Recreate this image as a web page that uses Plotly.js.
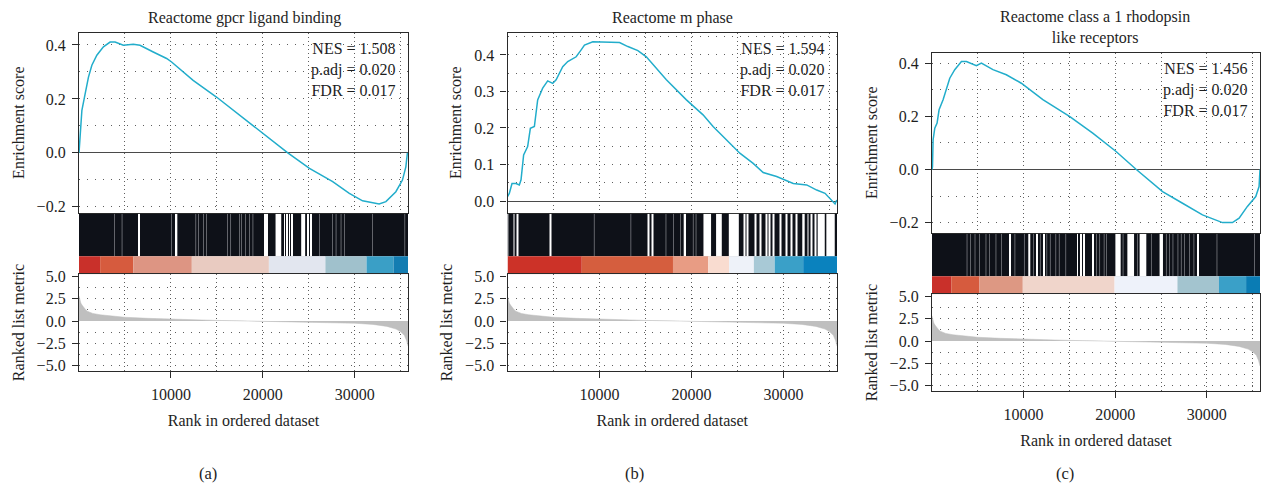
<!DOCTYPE html>
<html><head><meta charset="utf-8">
<script src="https://cdn.plot.ly/plotly-3.0.1.min.js"></script>
<style>html,body{margin:0;padding:0;background:#fff}#chart{width:1261px;height:486px}</style>
</head><body><div id="chart"></div>
<script>
// ---------------- data ----------------
const N_GENES = 35800;
const panelTitles = ['Reactome gpcr ligand binding', 'Reactome m phase', 'Reactome class a 1 rhodopsin<br>like receptors'];
const panelLabels = ['(a)', '(b)', '(c)'];
const nesValues = ['1.508', '1.594', '1.456'];
const padjValues = ['0.020', '0.020', '0.020'];
const fdrValues = ['0.017', '0.017', '0.017'];
const yTitleES = 'Enrichment score';
const yTitleRank = 'Ranked list metric';
const xTitle = 'Rank in ordered dataset';
const rankTickVals = [10000, 20000, 30000];
const metricTickVals = [-5, -2.5, 0, 2.5, 5];

// running enrichment score
const esRankA = [0,130,315,672,1030,1399,1941,2657,3384,3926,4826,5911,6637,8080,9534,10076,12419,14957,17485,20011,22722,25076,27603,29415,30857,32660,33396,34480,35196,35566,35736];
const esScoreA = [0,0.06,0.158,0.22,0.281,0.325,0.362,0.393,0.411,0.411,0.399,0.403,0.399,0.374,0.35,0.337,0.269,0.207,0.14,0.072,0,-0.058,-0.107,-0.15,-0.178,-0.19,-0.181,-0.144,-0.101,-0.052,0];
const esRankB = [0,196,490,926,1285,1470,1753,2189,2483,2919,3278,3822,4367,4911,5282,6000,6545,7460,8004,8364,9268,10727,12175,13079,14168,15083,17261,19439,21246,22335,25242,26691,27780,29239,31047,32507,33596,34500,35044,35589,35774];
const esScoreB = [0.012,0.021,0.048,0.048,0.044,0.058,0.126,0.149,0.199,0.204,0.277,0.309,0.329,0.322,0.332,0.368,0.382,0.395,0.414,0.427,0.436,0.434,0.434,0.423,0.412,0.395,0.332,0.277,0.236,0.204,0.131,0.103,0.078,0.067,0.048,0.044,0.030,0.021,0.007,-0.008,0.003];
const esRankC = [0,54,120,305,555,773,1209,1579,1938,2483,3213,3757,4846,5391,6654,8113,9747,12099,15005,17544,20092,22270,25167,27345,29523,31702,32790,33520,34424,35338,35698,35800];
const esScoreC = [0,0.011,0.112,0.156,0.175,0.225,0.263,0.300,0.344,0.376,0.407,0.407,0.391,0.401,0.376,0.357,0.325,0.263,0.2,0.137,0.068,0.001,-0.083,-0.127,-0.171,-0.2,-0.2,-0.183,-0.139,-0.102,-0.064,0];

// ranked list metric (same ranked list in all panels)
const metricRank = [0,100,200,350,500,700,900,1200,1500,2300,3500,5000,7500,10000,12500,15000,17500,20000,22500,25000,27500,30000,32000,33500,34500,35000,35400,35650,35800];
const metricValue = [2.8,2.4,2.0,1.75,1.5,1.3,1.1,0.95,0.85,0.7,0.55,0.42,0.3,0.2,0.13,0.07,0.02,-0.03,-0.07,-0.12,-0.17,-0.25,-0.38,-0.6,-0.9,-1.2,-1.6,-2.2,-2.8];

// gaps between gene-set hits (clear gaps: start/end ranks; faint gaps: single ranks)
const clearGapStartA = [6450,10550,20150,20400,21388,22320,22610,22860,23110,24176,24850,25215];
const clearGapEndA   = [6550,10700,20250,20500,22006,22410,22700,22950,23200,24610,24940,25305];
const faintGapA = [3850,4685,10076,12711,13004,13546,13872,16150,16507,17484,17668,18135,18568,18926,26160,27603,27972,28514,28872,31942,35455];
const clearGapStartB = [660,1000,4580,15250,15700,19144,21290,22662,24045,25705,26060,26860,27400,28060,28430,28900,29625,30310,30780,31325,32027,32600,32960,33380,33700,34641];
const clearGapEndB   = [760,1140,4680,15350,15840,19395,22117,23283,25134,25805,26160,26960,27500,28160,28530,29000,29725,30410,30880,31425,32289,32700,33060,33560,34470,35555];
const faintGapB = [87,9420,13405,17217,18056,18785,20177,20484];
const clearGapStartC = [8500,10509,11395,12125,15828,16187,16557,17537,20016,21323,22662,24840,28972];
const clearGapEndC   = [8600,10727,11495,12225,15928,16287,16657,17637,20593,22053,23391,25210,29072];
const faintGapC = [3822,4193,4694,5173,5891,6262,6981,7601,9050,10073,11086,11816,12534,12905,13514,13885,14604,17947,18306,18785,19036,20854,22412,23936,25570,25929,26299,26844,27203,27563,28107,28586,31103,35187];

// colour bar of the ranked list
const barBreaksA = [0,2300,5911,12277,20662,26811,31291,34219,35800];
const barBreaksB = [0,8069,17979,21813,24067,26768,29033,32125,35800];
const barBreaksC = [0,2102,5184,9910,19929,26789,31320,34282,35800];
const barColorsA = ['#c9302a','#d65b3e','#dd9583','#e9cbc1','#e2e6ef','#a0c1cc','#3a9fc6','#137db2'];
const barColorsB = ['#cc3228','#d55e3e','#e89c84','#f9dcd0','#eef2f9','#a8c9d6','#3aa0c8','#0a82be'];
const barColorsC = ['#c9302a','#d65b3e','#dd9883','#f0d5cb','#eef2fa','#a3c4cf','#3aa0c8','#0a7cb4'];

// ---------------- layout helpers ----------------
const W = 1261, H = 486;
const FONT = '"Liberation Serif", "Times New Roman", serif';
const TXT = '#1e1e1e';
function xd(a, b) { return [a / W, b / W]; }
function yd(top, bottom) { return [1 - bottom / H, 1 - top / H]; }

const panels = [
  {es: [esRankA, esScoreA], cs: clearGapStartA, ce: clearGapEndA, fg: faintGapA, bb: barBreaksA, bc: barColorsA,
   x: [79, 408], yES: [32.7, 212.7], yHit: [213.8, 274.3], yRk: [274.3, 370.7], esRange: [-0.222, 0.4456], esD: 0.2, esM: 0.1,
   tPos: [244, 18], nPos: [398, 38], lPos: [208, 473]},
  {es: [esRankB, esScoreB], cs: clearGapStartB, ce: clearGapEndB, fg: faintGapB, bb: barBreaksB, bc: barColorsB,
   x: [507.5, 837], yES: [32.7, 212.7], yHit: [213.8, 274.3], yRk: [274.3, 370.7], esRange: [-0.032, 0.461], esD: 0.1, esM: 0.05,
   tPos: [672.5, 18], nPos: [826.7, 38], lPos: [634, 473]},
  {es: [esRankC, esScoreC], cs: clearGapStartC, ce: clearGapEndC, fg: faintGapC, bb: barBreaksC, bc: barColorsC,
   x: [932, 1260], yES: [52.7, 232.7], yHit: [233.8, 294.3], yRk: [294.3, 390.7], esRange: [-0.238, 0.44], esD: 0.2, esM: 0.1,
   tPos: [1095, 27.5], nPos: [1250, 58], lPos: [1065, 473]}
];

const traces = [];
const layout = {
  width: W, height: H, autosize: false,
  margin: {l: 0, r: 0, t: 0, b: 0},
  paper_bgcolor: '#ffffff', plot_bgcolor: 'rgba(0,0,0,0)',
  showlegend: false, hovermode: false, barmode: 'overlay', bargap: 0.2,
  font: {family: FONT, size: 15, color: TXT},
  annotations: []
};

const frame = {showline: true, mirror: true, linecolor: '#2a2a2a', linewidth: 1.3};
const gridMajor = {showgrid: true, gridcolor: '#5e5e5e', gridwidth: 1, griddash: '1px,7px'};
const tickFont = {family: FONT, size: 16, color: TXT};
const titleFont = {family: FONT, size: 16, color: TXT};
const tickStyle = {ticks: 'outside', ticklen: 6, tickcolor: '#2a2a2a', tickwidth: 1.1, ticklabelstandoff: 3, tickfont: tickFont};

panels.forEach((p, i) => {
  const b = i * 3;
  const n = k => (k === 1 ? '' : String(k));
  const iE = n(b + 1), iH = n(b + 2), iR = n(b + 3);

  // --- ES panel axes
  layout['xaxis' + iE] = Object.assign({}, frame, gridMajor, {
    domain: xd(p.x[0], p.x[1]), anchor: 'y' + iE, range: [0, N_GENES],
    tickmode: 'array', tickvals: rankTickVals, showticklabels: false, ticks: '', zeroline: false,
    minor: {dtick: 5000, tick0: 0, showgrid: true, gridcolor: '#5e5e5e', griddash: '1px,3px', ticks: ''}
  });
  layout['yaxis' + iE] = Object.assign({}, frame, gridMajor, tickStyle, {
    domain: yd(p.yES[0], p.yES[1]), anchor: 'x' + iE, range: p.esRange,
    tickmode: 'linear', tick0: 0, dtick: p.esD, tickformat: '.1f',
    zeroline: true, zerolinecolor: '#4a4a4a', zerolinewidth: 1.2,
    minor: {dtick: p.esM, tick0: 0, showgrid: true, gridcolor: '#5e5e5e', griddash: '1px,7px', ticks: ''},
    title: {text: yTitleES, font: titleFont, standoff: 8}
  });
  // --- hits / colour bar axes
  layout['xaxis' + iH] = {domain: xd(p.x[0], p.x[1]), anchor: 'y' + iH, range: [0, N_GENES], visible: false};
  layout['yaxis' + iH] = {domain: yd(p.yHit[0], p.yHit[1]), anchor: 'x' + iH, range: [0, 1], visible: false};
  // --- ranked metric axes
  layout['xaxis' + iR] = Object.assign({}, frame, gridMajor, tickStyle, {
    domain: xd(p.x[0], p.x[1]), anchor: 'y' + iR, range: [0, N_GENES],
    tickmode: 'array', tickvals: rankTickVals, tickformat: 'd', zeroline: false, showticklabels: true,
    minor: {dtick: 5000, tick0: 0, showgrid: true, gridcolor: '#5e5e5e', griddash: '1px,3px', ticks: ''},
    title: {text: xTitle, font: titleFont, standoff: 12}
  });
  layout['yaxis' + iR] = Object.assign({}, frame, tickStyle, {
    domain: yd(p.yRk[0], p.yRk[1]), anchor: 'x' + iR, range: [-5.55, 5.22],
    tickmode: 'array', tickvals: metricTickVals, tickformat: '.1f', zeroline: false, showgrid: false,
    minor: {tickmode: 'array', tickvals: [-5, -3.75, -2.5, -1.25, 1.25, 2.5, 3.75], showgrid: true, gridcolor: '#5e5e5e', griddash: '1px,7px', ticks: ''},
    title: {text: yTitleRank, font: titleFont, standoff: 8}
  });

  // --- ES curve
  traces.push({type: 'scatter', mode: 'lines', x: p.es[0], y: p.es[1], xaxis: 'x' + iE, yaxis: 'y' + iE,
    line: {color: '#22adcb', width: 1.5}});

  // --- hit band: dark background, gaps between hits
  traces.push({type: 'bar', x: [N_GENES / 2], y: [0.7], base: [0.3], width: [N_GENES], xaxis: 'x' + iH, yaxis: 'y' + iH,
    marker: {color: '#0e1118', line: {width: 0}}});
  traces.push({type: 'bar', x: p.cs.map((s, k) => (s + p.ce[k]) / 2), y: p.cs.map(() => 0.7), base: p.cs.map(() => 0.3),
    width: p.cs.map((s, k) => p.ce[k] - s), xaxis: 'x' + iH, yaxis: 'y' + iH, marker: {color: '#ffffff', line: {width: 0}}});
  traces.push({type: 'bar', x: p.fg, y: p.fg.map(() => 0.7), base: p.fg.map(() => 0.3), width: p.fg.map(() => 70),
    xaxis: 'x' + iH, yaxis: 'y' + iH, marker: {color: 'rgba(235,235,240,0.6)', line: {width: 0}}});
  // --- colour bar
  const segs = p.bc.map((c, k) => [p.bb[k], p.bb[k + 1]]);
  traces.push({type: 'bar', x: segs.map(s => (s[0] + s[1]) / 2), y: segs.map(() => 0.3), base: segs.map(() => 0),
    width: segs.map(s => s[1] - s[0]), xaxis: 'x' + iH, yaxis: 'y' + iH, marker: {color: p.bc, line: {width: 0}}});

  // --- ranked metric
  traces.push({type: 'scatter', mode: 'lines', x: metricRank, y: metricValue, xaxis: 'x' + iR, yaxis: 'y' + iR,
    fill: 'tozeroy', fillcolor: '#bfbfbf', line: {color: '#bfbfbf', width: 0.5}});

  // --- annotations
  layout.annotations.push({xref: 'paper', yref: 'paper', x: p.tPos[0] / W, y: 1 - p.tPos[1] / H, xanchor: 'center', yanchor: 'middle',
    text: panelTitles[i], showarrow: false, font: {family: FONT, size: 16, color: TXT}});
  layout.annotations.push({xref: 'paper', yref: 'paper', x: p.nPos[0] / W, y: 1 - p.nPos[1] / H, xanchor: 'right', yanchor: 'top', align: 'right',
    text: 'NES = ' + nesValues[i] + '<br>p.adj = ' + padjValues[i] + '<br>FDR = ' + fdrValues[i], showarrow: false,
    font: {family: FONT, size: 16, color: TXT}});
  layout.annotations.push({xref: 'paper', yref: 'paper', x: p.lPos[0] / W, y: 1 - p.lPos[1] / H, xanchor: 'center', yanchor: 'middle',
    text: panelLabels[i], showarrow: false, font: {family: FONT, size: 16.5, color: TXT}});
});

Plotly.newPlot('chart', traces, layout, {displayModeBar: false, responsive: false});
</script>
</body></html>
